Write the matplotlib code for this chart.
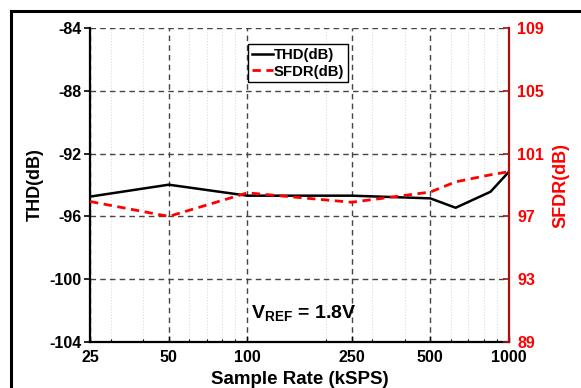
import matplotlib
matplotlib.use("Agg")
import matplotlib.pyplot as plt
from matplotlib.ticker import FixedLocator, NullFormatter, LogLocator
import numpy as np

plt.rcParams['font.family'] = ['Liberation Sans', 'DejaVu Sans']
plt.rcParams['font.weight'] = 'bold'
plt.rcParams['mathtext.fontset'] = 'custom'
plt.rcParams['mathtext.rm'] = 'Liberation Sans:bold'
plt.rcParams['mathtext.bf'] = 'Liberation Sans:bold'
plt.rcParams['mathtext.it'] = 'Liberation Sans:bold'

# Data
sample_rate = [25, 50, 100, 250, 500, 625, 850, 1000]
thd_db = [-94.74, -93.98, -94.68, -94.68, -94.85, -95.45, -94.43, -93.15]
sfdr_db = [97.95, 97.0, 98.5, 97.9, 98.55, 99.2, 99.65, 99.85]
x_ticks = [25, 50, 100, 250, 500, 1000]
thd_ticks = [-104, -100, -96, -92, -88, -84]
sfdr_ticks = [89, 93, 97, 101, 105, 109]

W, H = 581, 388
fig = plt.figure(figsize=(W / 100, H / 100), dpi=100)
ax = fig.add_axes([90 / W, 1 - 342 / H, (509 - 90) / W, (342 - 28) / H])

# outer frame (cropped at right/bottom)
fig.patches.append(plt.Rectangle((11 / W, -0.2), 2.0, (1 - 11 / H) + 0.2,
                                 transform=fig.transFigure, fill=False,
                                 lw=2.2, edgecolor='black', clip_on=False))

ax.set_xscale('log')
ax.set_xlim(25, 1000)
ax.set_ylim(-104, -84)
ax.xaxis.set_major_locator(FixedLocator(x_ticks))
ax.set_xticklabels([str(v) for v in x_ticks])
ax.xaxis.set_minor_locator(LogLocator(base=10, subs=np.arange(2, 10)))
ax.xaxis.set_minor_formatter(NullFormatter())
ax.set_yticks(thd_ticks)
ax.set_yticklabels([str(v) for v in thd_ticks])

# grids
ax.grid(True, which='major', axis='both', linestyle=(0, (4, 3)), color='#444444', lw=1.0)
ax.grid(True, which='minor', axis='x', linestyle=':', color='#dcdcdc', lw=0.8)
ax.set_axisbelow(True)

ax.spines['top'].set_visible(False)
ax.spines['right'].set_visible(False)
ax.spines['left'].set_linewidth(1.6)
ax.spines['bottom'].set_linewidth(1.6)

ax.tick_params(axis='y', direction='out', length=4, width=1.2, labelsize=11.5, pad=2)
ax.tick_params(axis='x', which='major', direction='in', length=4, width=1.0, labelsize=11.5, pad=6)
ax.tick_params(axis='x', which='minor', direction='in', length=2.5, width=0.8)

l1, = ax.plot(sample_rate, thd_db, color='black', lw=1.8, label='THD(dB)')

ax2 = ax.twinx()
ax2.set_ylim(89, 109)
ax2.set_yticks(sfdr_ticks)
ax2.set_yticklabels([str(v) for v in sfdr_ticks])
for s in ['top', 'left', 'bottom']:
    ax2.spines[s].set_visible(False)
ax2.spines['right'].set_color('#a81010')
ax2.spines['right'].set_linewidth(1.6)
ax2.tick_params(axis='y', direction='in', length=4, width=1.2, colors='#a81010',
                labelcolor='#ff0000', labelsize=11.5, pad=6)
l2, = ax2.plot(sample_rate, sfdr_db, color='#ff0000', lw=2.0, dashes=(3, 2), label='SFDR(dB)')

ax.set_xlabel('Sample Rate (kSPS)', fontsize=13.5, fontweight='bold', labelpad=4)
ax.set_ylabel('THD(dB)', fontsize=13, fontweight='bold', labelpad=4)
ax2.set_ylabel('SFDR(dB)', fontsize=13, fontweight='bold', color='#ff0000', labelpad=6)

leg = ax2.legend(handles=[l1, l2], loc='upper left',
                 bbox_to_anchor=((248 - 90) / 419, 1 - (44 - 28) / 314),
                 fancybox=False, framealpha=1, edgecolor='black', fontsize=10.7,
                 handlelength=1.4, handletextpad=0.1, borderpad=0.25,
                 labelspacing=0.2, borderaxespad=0)
leg.get_frame().set_linewidth(1.0)

ax.text((251 - 90) / 419, 1 - (318 - 28) / 314, r'$\mathbf{V_{REF}}$ = 1.8V',
        transform=ax.transAxes, fontsize=14, fontweight='bold', va='baseline', ha='left')

fig.savefig('out.png', dpi=100)
